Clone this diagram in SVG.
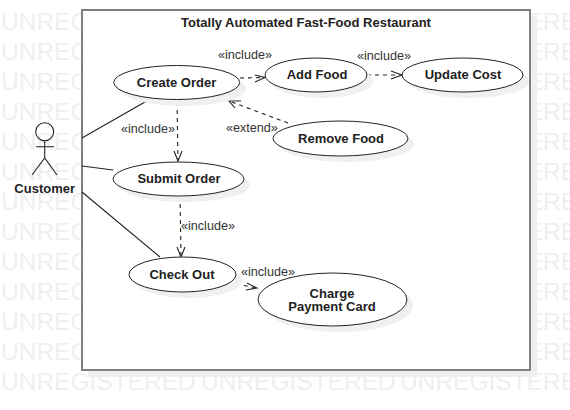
<svg xmlns="http://www.w3.org/2000/svg" width="570" height="410" viewBox="0 0 570 410">
<style>
text{font-family:"Liberation Sans",Arial,sans-serif;fill:#222}
.wm{font-size:24.500px;fill:#efefef}
.n{font-size:13px;font-weight:bold;text-anchor:middle}
.l{font-size:12.600px;fill:#333}
.u{fill:#fff;stroke:#222;stroke-width:1}
.s{fill:#f0f0f0;stroke:none}
.a{fill:none;stroke:#222;stroke-width:1.1}
.d{fill:none;stroke:#222;stroke-width:1.1;stroke-dasharray:4 4}
.h{fill:none;stroke:#222;stroke-width:1.1}
</style>
<defs>
<g id="wmrow"><text class="wm" x="1" y="0">UNREGISTERED</text><text class="wm" x="201" y="0">UNREGISTERED</text><text class="wm" x="400" y="0">UNREGISTERED</text></g>
</defs>
<g id="watermark">
<use href="#wmrow" y="30"/><use href="#wmrow" y="60"/><use href="#wmrow" y="90"/><use href="#wmrow" y="120"/><use href="#wmrow" y="150"/><use href="#wmrow" y="180"/><use href="#wmrow" y="210"/><use href="#wmrow" y="240"/><use href="#wmrow" y="270"/><use href="#wmrow" y="300"/><use href="#wmrow" y="330"/><use href="#wmrow" y="360"/><use href="#wmrow" y="390"/>
</g>
<g id="boundary">
<rect x="88" y="16" width="449" height="361" fill="#efefef"/>
<rect x="82" y="10" width="448" height="360" fill="#fff" stroke="#7f7f7f" stroke-width="2"/>
<text class="n" x="306" y="27">Totally Automated Fast-Food Restaurant</text>
</g>
<g id="connectors">
<path class="a" d="M82 138L146.700 101"/>
<path class="a" d="M82 166L113 170"/>
<path class="a" d="M82 192L160 257"/>
<path class="d" d="M240 78L265 77.500"/>
<path class="h" d="M255 75L265 77.500L255 82"/>
<path class="d" d="M367 75L401 75"/>
<path class="h" d="M391 71L402 75L391 79"/>
<path class="d" d="M288 123L229 101"/>
<path class="h" d="M241 101L229 101L235 108"/>
<path class="d" d="M177 102L178 161"/>
<path class="h" d="M174 151L178 161L182 151"/>
<path class="d" d="M180 196L181 257"/>
<path class="h" d="M177 247L181 257L185 247"/>
<path class="d" d="M236 284L257 288"/>
<path class="h" d="M247 283L257 288L246 290"/>
<text class="l" x="218" y="59">«include»</text>
<text class="l" x="357" y="60">«include»</text>
<text class="l" x="121" y="133">«include»</text>
<text class="l" x="226" y="132">«extend»</text>
<text class="l" x="181" y="230">«include»</text>
<text class="l" x="241" y="276">«include»</text>
</g>
<g id="customer">
<circle class="a" cx="44.700" cy="131.700" r="9"/>
<path class="a" d="M44.700 141V158M36 146.700H54M32 175L44.700 158L57 175"/>
<text class="n" x="44.700" y="193">Customer</text>
</g>
<g id="create-order">
<ellipse class="s" cx="183" cy="89" rx="63" ry="17"/>
<ellipse class="u" cx="176.700" cy="82.500" rx="63" ry="17"/>
<text class="n" x="176.500" y="87">Create Order</text>
</g>
<g id="add-food">
<ellipse class="s" cx="322" cy="81" rx="51" ry="17"/>
<ellipse class="u" cx="316" cy="75" rx="51" ry="17"/>
<text class="n" x="317" y="79">Add Food</text>
</g>
<g id="update-cost">
<ellipse class="s" cx="468.500" cy="81" rx="60.500" ry="17"/>
<ellipse class="u" cx="462.500" cy="75" rx="60.500" ry="17"/>
<text class="n" x="463" y="79">Update Cost</text>
</g>
<g id="remove-food">
<ellipse class="s" cx="346.500" cy="144.500" rx="67.500" ry="17.500"/>
<ellipse class="u" cx="340.500" cy="138.500" rx="67.500" ry="17.500"/>
<text class="n" x="341" y="143">Remove Food</text>
</g>
<g id="submit-order">
<ellipse class="s" cx="184.500" cy="185" rx="65.500" ry="17"/>
<ellipse class="u" cx="178.500" cy="179" rx="65.500" ry="17"/>
<text class="n" x="179" y="183">Submit Order</text>
</g>
<g id="check-out">
<ellipse class="s" cx="188.500" cy="280.500" rx="53.500" ry="17.500"/>
<ellipse class="u" cx="182.500" cy="274.500" rx="53.500" ry="17.500"/>
<text class="n" x="182" y="279">Check Out</text>
</g>
<g id="charge-payment-card">
<ellipse class="s" cx="338.500" cy="305.500" rx="74.500" ry="26.500"/>
<ellipse class="u" cx="332.500" cy="299.500" rx="74.500" ry="26.500"/>
<text class="n" x="332" y="298">Charge</text>
<text class="n" x="332" y="311">Payment Card</text>
</g>
</svg>
